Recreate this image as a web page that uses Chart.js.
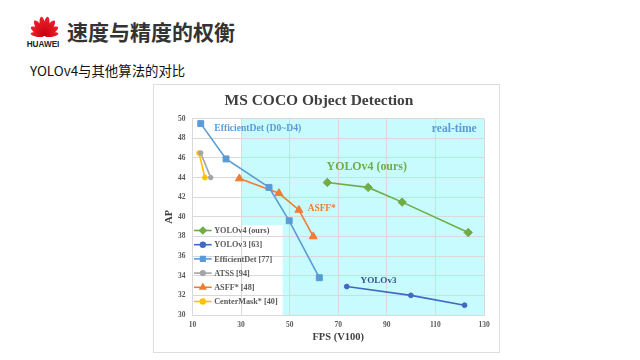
<!DOCTYPE html>
<html><head><meta charset="utf-8">
<script src="https://cdn.jsdelivr.net/npm/chart.js@4/dist/chart.umd.min.js"></script>
<style>
html,body{margin:0;padding:0;background:#fff;width:640px;height:360px;overflow:hidden;position:relative}
#logo{position:absolute;left:22px;top:10px}
#title{position:absolute;left:67px;top:17px;font:bold 21px "Noto Sans CJK SC";color:#333;line-height:28px;white-space:nowrap}
#sub{position:absolute;left:30px;top:61px;font:13.4px "Noto Sans CJK SC";color:#111;line-height:18px;white-space:nowrap}
#frame{position:absolute;left:153px;top:84px;width:345px;height:267px;border:1px solid #dedede;background:#fff}
#frame canvas{display:block}
</style></head>
<body>
<svg id="logo" width="46" height="40" viewBox="0 0 46 40">
  <defs><linearGradient id="rg" x1="0" y1="0" x2="0" y2="1"><stop offset="0" stop-color="#f0212e"/><stop offset="1" stop-color="#c4000c"/></linearGradient></defs>
  <g fill="url(#rg)" transform="translate(22.5,25.5)">
    <ellipse cx="0" cy="-9.5" rx="3" ry="9.5" transform="rotate(-10)"/>
    <ellipse cx="0" cy="-9.5" rx="3" ry="9.5" transform="rotate(10)"/>
    <ellipse cx="0" cy="-9" rx="3" ry="9" transform="rotate(-34)"/>
    <ellipse cx="0" cy="-9" rx="3" ry="9" transform="rotate(34)"/>
    <ellipse cx="0" cy="-8" rx="2.8" ry="8" transform="rotate(-58)"/>
    <ellipse cx="0" cy="-8" rx="2.8" ry="8" transform="rotate(58)"/>
    <ellipse cx="0" cy="-7" rx="2.4" ry="7" transform="rotate(-82)"/>
    <ellipse cx="0" cy="-7" rx="2.4" ry="7" transform="rotate(82)"/>
  </g>
  <text x="21" y="36.7" text-anchor="middle" font-family="Liberation Sans" font-weight="bold" font-size="8.2" fill="#222">HUAWEI</text>
</svg>
<div id="title">速度与精度的权衡</div>
<div id="sub">YOLOv4与其他算法的对比</div>
<div id="frame"><canvas id="c" width="345" height="267"></canvas></div>
<script>
// ---- data ----
const seriesNames = ['YOLOv4 (ours)', 'YOLOv3 [63]', 'EfficientDet [77]', 'ATSS [94]', 'ASFF* [48]', 'CenterMask* [40]'];
const yolov4Fps = [65.5, 82.3, 96.3, 123.5];
const yolov4Ap  = [43.5, 43.0, 41.5, 38.4];
const yolov3Fps = [73.5, 99.9, 122.0];
const yolov3Ap  = [32.9, 32.0, 31.0];
const effdetFps = [13.4, 23.8, 41.5, 49.8, 62.2];
const effdetAp  = [49.5, 45.9, 43.0, 39.6, 33.8];
const atssFps   = [13.4, 17.5];
const atssAp    = [46.5, 44.0];
const asffFps   = [29.3, 45.6, 53.8, 59.7];
const asffAp    = [43.9, 42.4, 40.7, 38.0];
const centerFps = [12.7, 15.1];
const centerAp  = [46.5, 44.0];
const xTicks = [10, 30, 50, 70, 90, 110, 130];
const yTicks = [30, 32, 34, 36, 38, 40, 42, 44, 46, 48, 50];
const realTimeRange = [30, 130];        // FPS range of the cyan "real-time" zone
const legendBoxRange = [10, 47.1, 30, 39.15]; // FPS min,max / AP min,max of the legend panel
const noteTexts = ['EfficientDet (D0~D4)', 'real-time', 'YOLOv4 (ours)', 'ASFF*', 'YOLOv3'];
const noteFps   = [19.0, 127.0, 65.2, 57.4, 79.2];
const noteAp    = [49.0, 48.9, 45.1, 40.85, 33.5];

// ---- styles ----
const colors = ['#70ad47', '#4068c4', '#5b9bd5', '#a5a5a5', '#ed7d31', '#ffc000'];
const shapes = ['rectRot', 'circle', 'rect', 'circle', 'triangle', 'circle'];
const radii  = [4.2, 2.4, 4.2, 2.3, 4.6, 2.4];
const noteColors = ['#5b9bd5', '#5b9bd5', '#70ad47', '#ed7d31', '#34508f'];
const noteSizes  = [9.6, 11.6, 11.9, 9.4, 9.1];
const noteAlign  = ['left', 'right', 'left', 'left', 'left'];
const SERIF = '"Liberation Serif", "DejaVu Serif", serif';

const pairs = (xs, ys) => xs.map((x, i) => ({x, y: ys[i]}));
const seriesData = [
  pairs(yolov4Fps, yolov4Ap), pairs(yolov3Fps, yolov3Ap), pairs(effdetFps, effdetAp),
  pairs(atssFps, atssAp), pairs(asffFps, asffAp), pairs(centerFps, centerAp)
];

const bgPlugin = {
  id: 'bg',
  beforeDraw(chart) {
    const {ctx, chartArea: a, scales: {x, y}} = chart;
    ctx.save();
    ctx.fillStyle = '#c8fbfd';
    const x0 = x.getPixelForValue(realTimeRange[0]), x1 = x.getPixelForValue(realTimeRange[1]);
    ctx.fillRect(x0, a.top, x1 - x0, a.bottom - a.top);
    ctx.fillStyle = '#ffffff';
    const lx0 = x.getPixelForValue(legendBoxRange[0]), lx1 = x.getPixelForValue(legendBoxRange[1]);
    const ly0 = y.getPixelForValue(legendBoxRange[3]), ly1 = y.getPixelForValue(legendBoxRange[2]);
    ctx.fillRect(lx0, ly0, lx1 - lx0, ly1 - ly0);
    ctx.restore();
  }
};

const notesPlugin = {
  id: 'notes',
  afterDatasetsDraw(chart) {
    const {ctx, scales: {x, y}} = chart;
    ctx.save();
    ctx.textBaseline = 'middle';
    noteTexts.forEach((t, i) => {
      ctx.font = 'bold ' + noteSizes[i] + 'px ' + SERIF;
      ctx.fillStyle = noteColors[i];
      ctx.textAlign = noteAlign[i];
      ctx.fillText(t, x.getPixelForValue(noteFps[i]), y.getPixelForValue(noteAp[i]));
    });
    // legend inside the white panel
    const lx = x.getPixelForValue(legendBoxRange[0]);
    const ly = y.getPixelForValue(legendBoxRange[3]);
    ctx.font = 'bold 8.2px ' + SERIF;
    ctx.textAlign = 'left';
    seriesNames.forEach((name, i) => {
      const cy = ly + 5.3 + i * 14.2;
      const sx0 = lx + 1.5, sx1 = lx + 19.2;
      ctx.strokeStyle = colors[i];
      ctx.lineWidth = 1.6;
      ctx.beginPath(); ctx.moveTo(sx0, cy); ctx.lineTo(sx1, cy); ctx.stroke();
      ctx.fillStyle = colors[i];
      Chart.helpers.drawPoint(ctx, {pointStyle: shapes[i], radius: Math.min(radii[i], 3.2), borderWidth: 1}, (sx0 + sx1) / 2, cy);
      ctx.fillStyle = '#595959';
      ctx.fillText(name, sx1 + 2.5, cy + 0.5);
    });
    ctx.restore();
  }
};

new Chart(document.getElementById('c'), {
  type: 'line',
  data: {
    datasets: seriesNames.map((name, i) => ({
      label: name,
      data: seriesData[i],
      borderColor: colors[i],
      backgroundColor: colors[i],
      borderWidth: 1.6,
      pointStyle: shapes[i],
      pointRadius: radii[i],
      pointBorderWidth: 1,
      tension: 0,
      fill: false
    }))
  },
  options: {
    responsive: false,
    animation: false,
    devicePixelRatio: 1,
    layout: {padding: {top: 0, right: 15, left: 0, bottom: 0}},
    plugins: {
      legend: {display: false},
      tooltip: {enabled: false},
      title: {
        display: true,
        text: 'MS COCO Object Detection',
        color: '#404040',
        font: {family: SERIF, size: 15.5, weight: 'bold'},
        padding: {top: 6.4, bottom: 8.7}
      }
    },
    scales: {
      x: {
        type: 'linear', min: xTicks[0], max: xTicks[xTicks.length - 1],
        afterBuildTicks: s => { s.ticks = xTicks.map(v => ({value: v})); },
        afterFit: s => { s.height = 37; },
        grid: {color: '#d9d9d9', lineWidth: 1, drawTicks: false},
        border: {color: '#d9d9d9'},
        ticks: {color: '#595959', font: {family: SERIF, size: 7.5, weight: 'bold'}, padding: 6, maxRotation: 0},
        title: {display: true, text: 'FPS (V100)', color: '#404040', font: {family: SERIF, size: 10.5, weight: 'bold'}, padding: {top: 2, bottom: 8}}
      },
      y: {
        type: 'linear', min: yTicks[0], max: yTicks[yTicks.length - 1],
        afterBuildTicks: s => { s.ticks = yTicks.map(v => ({value: v})); },
        afterFit: s => { s.width = 38.5; },
        grid: {color: '#d9d9d9', lineWidth: 1, drawTicks: false},
        border: {color: '#d9d9d9'},
        ticks: {color: '#595959', font: {family: SERIF, size: 7.5, weight: 'bold'}, padding: 7},
        title: {display: true, text: 'AP', color: '#404040', font: {family: SERIF, size: 10.5, weight: 'bold'}, padding: {top: 9, bottom: 2}}
      }
    }
  },
  plugins: [bgPlugin, notesPlugin]
});
</script>
</body></html>
